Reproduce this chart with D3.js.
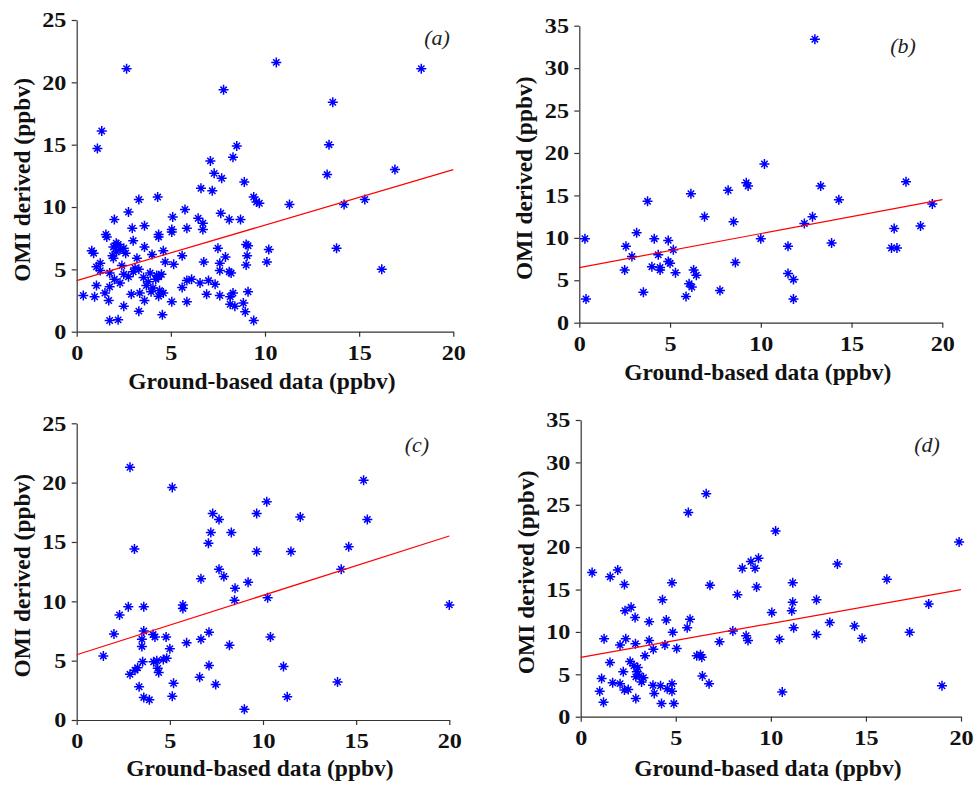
<!DOCTYPE html>
<html>
<head>
<meta charset="utf-8">
<script src="https://cdn.jsdelivr.net/npm/d3@7"></script>
<style>
  body { margin: 0; background: #fff; }
  svg { display: block; }
  .tick text { font-family: "Liberation Serif", "Times New Roman", serif; font-weight: bold; font-size: 21px; fill: #111; }
  .domain, .tick line { stroke: #333; stroke-width: 1.2; }
</style>
</head>
<body>
<div id="chart"></div>
<script>
// panel (a): [ground-based, OMI]
const pointsA = [
  [2.65,21.1],[10.6,21.6],[18.3,21.1],[7.8,19.4],[13.6,18.4],[1.33,16.1],[1.1,14.7],[13.4,15.0],
  [8.5,14.9],[8.3,14.0],[7.1,13.7],[7.3,12.7],[7.7,12.3],[13.3,12.6],[16.9,13.0],[8.9,12.0],
  [6.6,11.5],[7.2,11.3],[3.3,10.6],[4.3,10.8],[5.75,9.8],[9.4,10.8],[9.55,10.4],[9.7,10.3],
  [11.3,10.2],[14.2,10.2],[15.3,10.6],[2.75,9.6],[2.0,9.0],[5.1,9.2],[7.65,9.5],[8.1,9.0],
  [8.7,9.0],[6.45,9.1],[6.7,8.7],[2.95,8.3],[3.6,8.5],[5.05,8.2],[5.05,8.0],[5.85,8.3],
  [6.7,8.2],[1.55,7.8],[1.6,7.6],[4.35,7.8],[4.35,7.6],[3.0,7.3],[9.0,7.0],[9.1,6.9],
  [2.1,7.1],[1.95,6.8],[2.5,6.7],[3.6,6.8],[7.5,6.7],[13.8,6.7],[0.8,6.5],[0.9,6.3],
  [2.1,6.4],[2.6,6.3],[4.6,6.5],[10.2,6.6],[4.0,6.2],[5.6,6.1],[9.05,6.1],[7.9,6.0],
  [1.95,5.9],[3.2,5.9],[6.75,5.6],[4.7,5.6],[5.15,5.4],[10.1,5.6],[7.6,5.5],[9.0,5.35],
  [1.25,5.5],[1.05,5.2],[16.2,5.0],[1.25,4.9],[3.1,5.1],[1.75,4.7],[2.5,4.6],[2.75,4.4],
  [3.55,4.35],[3.9,4.7],[4.25,4.5],[4.35,4.4],[8.1,4.8],[8.2,4.7],[7.6,4.9],[6.1,4.2],
  [5.85,4.1],[6.55,3.9],[7.0,4.1],[7.35,3.8],[1.05,3.7],[1.75,3.6],[2.3,3.9],[3.7,3.7],
  [4.05,3.5],[5.6,3.55],[3.95,3.2],[4.4,3.3],[3.35,3.1],[2.9,3.0],[1.5,3.1],[0.35,2.9],
  [0.95,2.8],[4.6,3.1],[6.9,3.0],[7.6,2.9],[8.3,3.1],[9.1,3.2],[8.15,2.8],[4.35,2.85],
  [3.6,2.5],[1.7,2.5],[5.05,2.4],[5.85,2.4],[8.15,2.2],[8.4,2.05],[8.85,2.3],[2.5,2.05],
  [8.95,1.6],[3.3,1.65],[4.55,1.35],[1.75,0.9],[2.2,0.95],[9.4,0.9],[2.2,7.0],[2.3,6.6],
  [1.9,6.1],[2.4,5.3],[3.3,5.0],[4.2,4.2],[3.8,4.0],[2.0,4.2],[3.0,4.8],[4.5,4.6]
];
// panel (b)
const pointsB = [
  [12.98,33.4],[10.2,18.7],[18.0,16.6],[9.2,16.5],[9.3,16.1],[13.3,16.1],[8.2,15.6],[6.15,15.2],
  [3.76,14.3],[14.3,14.5],[19.45,14.0],[6.9,12.5],[12.85,12.5],[12.4,11.7],[8.5,11.9],[17.35,11.1],
  [18.8,11.4],[3.16,10.6],[0.31,9.9],[4.13,9.9],[4.9,9.7],[10.0,9.9],[13.9,9.4],[2.57,9.0],
  [11.5,9.0],[17.2,8.8],[17.5,8.8],[5.18,8.6],[2.9,7.8],[4.35,8.0],[4.9,7.2],[5.0,7.0],
  [8.6,7.1],[4.0,6.6],[4.45,6.5],[4.45,6.2],[2.5,6.2],[6.3,6.2],[5.3,5.9],[6.45,5.6],
  [11.5,5.8],[11.8,5.1],[6.05,4.6],[6.2,4.2],[3.53,3.6],[7.75,3.8],[5.88,3.1],[0.37,2.8],
  [11.8,2.8]
];
// panel (c)
const pointsC = [
  [2.86,21.3],[5.13,19.6],[15.4,20.2],[10.2,18.4],[7.3,17.4],[9.66,17.4],[7.64,16.9],[12.0,17.1],
  [15.6,16.9],[7.2,15.8],[8.3,15.8],[7.07,14.9],[3.1,14.4],[9.66,14.2],[11.5,14.2],[14.6,14.6],
  [7.64,12.7],[14.2,12.7],[7.9,12.1],[6.67,11.9],[9.2,11.6],[8.5,11.1],[8.47,10.1],[10.25,10.3],
  [5.7,9.7],[5.7,9.4],[2.77,9.55],[3.6,9.55],[20.0,9.7],[2.3,8.85],[2.0,7.25],[3.6,7.5],
  [4.1,7.2],[4.2,7.0],[4.8,7.0],[7.1,7.4],[10.4,7.0],[3.5,6.8],[6.67,6.8],[5.9,6.5],
  [3.5,6.2],[5.0,6.0],[8.2,6.3],[1.43,5.4],[4.83,5.2],[4.65,5.1],[4.3,5.0],[4.13,4.9],
  [3.54,4.9],[7.1,4.6],[11.1,4.5],[3.27,4.4],[3.13,4.2],[4.35,4.35],[4.4,4.0],[2.86,3.85],
  [6.6,3.6],[14.0,3.2],[5.2,3.1],[7.46,3.0],[3.35,2.8],[3.6,1.9],[3.9,1.7],[5.13,2.0],
  [11.3,1.95],[9.0,0.9]
];
// panel (d)
const pointsD = [
  [6.6,26.3],[5.66,24.1],[10.25,21.9],[19.9,20.6],[9.35,18.7],[8.95,18.3],[9.17,17.5],[8.5,17.5],
  [13.5,18.0],[0.6,17.0],[1.95,17.3],[1.55,16.5],[16.1,16.2],[4.8,15.8],[11.15,15.8],[2.3,15.6],
  [6.8,15.5],[9.25,15.3],[8.24,14.4],[4.3,13.8],[12.4,13.8],[11.15,13.5],[2.65,12.9],[18.3,13.3],
  [2.33,12.5],[11.1,12.5],[10.05,12.3],[2.86,11.7],[5.75,11.5],[4.5,11.4],[3.6,11.2],[13.1,11.1],
  [5.6,10.5],[11.2,10.5],[14.4,10.7],[4.84,9.95],[8.0,10.1],[8.7,9.55],[17.3,9.95],[12.4,9.7],
  [1.23,9.2],[2.37,9.2],[10.45,9.15],[14.8,9.25],[8.8,9.0],[3.6,9.0],[7.3,8.85],[2.07,8.45],
  [2.88,8.6],[4.43,8.45],[3.82,7.95],[5.05,8.05],[3.38,7.2],[6.1,7.2],[6.37,7.0],[1.54,6.4],
  [2.6,6.5],[2.8,6.0],[2.24,5.3],[2.95,5.3],[3.1,4.8],[3.3,4.6],[2.9,4.7],[6.4,4.8],
  [1.1,4.5],[1.68,4.0],[3.2,4.1],[6.75,3.9],[4.8,3.9],[2.07,3.9],[3.8,3.7],[4.2,3.65],
  [19.0,3.65],[4.55,3.3],[2.3,3.15],[1.0,3.0],[4.8,3.0],[10.6,2.9],[3.87,2.75],[2.9,2.15],
  [1.2,1.7],[4.25,1.55],[4.9,1.55],[6.3,7.3],[3.0,5.8],[2.5,3.2]
];

// regression lines: [intercept, slope]
const fits = [[4.1, 0.445], [6.5, 0.4], [5.5, 0.5], [7.0, 0.4]];
const labels = ['(a)', '(b)', '(c)', '(d)'];
const yMaxes = [25, 35, 25, 35];
const xTicks = [0, 5, 10, 15, 20];

const panels = [
  {pts: pointsA, x0: 76.7, x1: 453.3, yb: 331.7, yt: 20.0, lab: [437, 45], titleY: 389},
  {pts: pointsB, x0: 579.3, x1: 942.3, yb: 322.7, yt: 25.7, lab: [903, 53], titleY: 380},
  {pts: pointsC, x0: 76.7, x1: 449.3, yb: 720.0, yt: 423.3, lab: [417, 452], titleY: 776},
  {pts: pointsD, x0: 580.7, x1: 961.0, yb: 716.7, yt: 420.0, lab: [927, 452], titleY: 776}
];

const width = 979;
const height = 785;
const blue = '#0000ff';
const serif = '"Liberation Serif", "Times New Roman", serif';

const svg = d3.select('#chart')
  .append('svg')
  .attr('width', width)
  .attr('height', height);

// asterisk marker: plus + smaller cross
const star = 'M-5,0H5M0,-5V5M-3.2,-3.2L3.2,3.2M-3.2,3.2L3.2,-3.2';

panels.forEach(function(p, i) {
  const x = d3.scaleLinear().domain([0, 20]).range([p.x0, p.x1]);
  const yMax = yMaxes[i];
  const y = d3.scaleLinear().domain([0, yMax]).range([p.yb, p.yt]);
  const g = svg.append('g').attr('class', 'panel');

  const xAxis = g.append('g')
    .attr('transform', 'translate(0,' + p.yb + ')')
    .call(d3.axisBottom(x).tickValues(xTicks).tickSize(5).tickSizeOuter(0).tickPadding(8));
  xAxis.selectAll('.tick text').attr('transform', 'scale(1.15,1)');

  const yAxis = g.append('g')
    .attr('transform', 'translate(' + p.x0 + ',0)')
    .call(d3.axisLeft(y).ticks(yMax / 5).tickSize(5).tickSizeOuter(0).tickPadding(4));
  yAxis.selectAll('.tick text').attr('transform', 'scale(1.15,1)');

  // points
  g.selectAll('path.pt')
    .data(p.pts)
    .enter().append('path')
    .attr('class', 'pt')
    .attr('d', star)
    .attr('transform', function(d) { return 'translate(' + x(d[0]) + ',' + y(d[1]) + ')'; })
    .style('stroke', blue)
    .style('stroke-width', 1.5)
    .style('fill', 'none');

  // fit line
  const f = fits[i];
  g.append('line')
    .attr('x1', x(0)).attr('y1', y(f[0]))
    .attr('x2', x(20)).attr('y2', y(f[0] + f[1] * 20))
    .style('stroke', '#ff0000')
    .style('stroke-width', 1.2);

  g.append('text')
    .attr('x', (p.x0 + p.x1) / 2 - 3)
    .attr('y', p.titleY)
    .attr('text-anchor', 'middle')
    .style('font-family', serif)
    .style('font-weight', 'bold')
    .style('font-size', '23.5px')
    .style('fill', '#111')
    .text('Ground-based data (ppbv)');

  g.append('text')
    .attr('transform', 'translate(' + (p.x0 - 47) + ',' + ((p.yb + p.yt) / 2 + 4) + ') rotate(-90)')
    .attr('text-anchor', 'middle')
    .style('font-family', serif)
    .style('font-weight', 'bold')
    .style('font-size', '23.5px')
    .style('fill', '#111')
    .text('OMI derived (ppbv)');

  g.append('text')
    .attr('x', p.lab[0])
    .attr('y', p.lab[1])
    .attr('text-anchor', 'middle')
    .style('font-family', serif)
    .style('font-style', 'italic')
    .style('font-size', '22px')
    .style('fill', '#222')
    .text(labels[i]);
});
</script>
</body>
</html>
